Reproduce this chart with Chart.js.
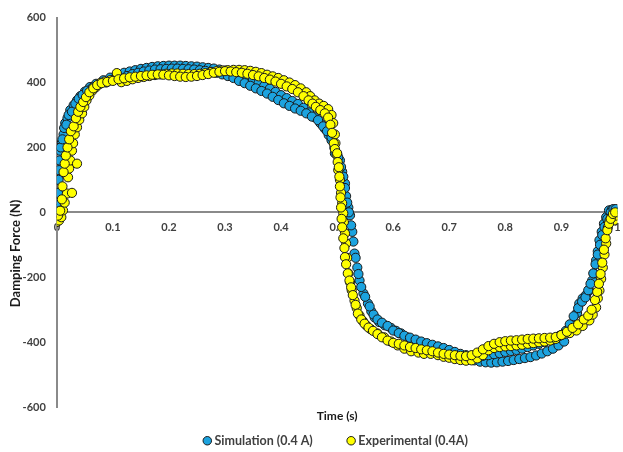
<!DOCTYPE html>
<html>
<head>
<meta charset="utf-8">
<script src="https://cdn.jsdelivr.net/npm/chart.js@4.4.0/dist/chart.umd.min.js"></script>
<style>
  html, body { margin: 0; padding: 0; background: #fff; }
  #wrap { width: 623px; height: 452px; }
</style>
</head>
<body>
<div id="wrap"><canvas id="myChart"></canvas></div>
<script>
// Simulation (0.4 A), two passes through the cycle
const simTimeA = [
    0, 0.002, 0.004, 0.006, 0.009, 0.012, 0.015, 0.019, 0.024, 0.03,
    0.036, 0.042, 0.05, 0.059, 0.07, 0.083, 0.095, 0.107, 0.12, 0.13,
    0.14, 0.15, 0.16, 0.17, 0.18, 0.19, 0.2, 0.21, 0.22, 0.23,
    0.24, 0.25, 0.26, 0.27, 0.28, 0.29, 0.3, 0.31, 0.32, 0.33,
    0.34, 0.35, 0.36, 0.37, 0.38, 0.39, 0.4, 0.41, 0.42, 0.43,
    0.44, 0.45, 0.46, 0.47, 0.478, 0.485, 0.49, 0.495, 0.5, 0.505,
    0.509, 0.514, 0.516, 0.52, 0.523, 0.527, 0.531, 0.536, 0.54, 0.547,
    0.555, 0.561, 0.567, 0.575, 0.585, 0.596, 0.605, 0.614, 0.625, 0.635,
    0.645, 0.655, 0.665, 0.675, 0.685, 0.695, 0.705, 0.715, 0.725, 0.735,
    0.745, 0.755, 0.765, 0.775, 0.785, 0.795, 0.805, 0.815, 0.825, 0.835,
    0.845, 0.855, 0.865, 0.875, 0.885, 0.895, 0.905, 0.915, 0.922, 0.928,
    0.932, 0.938, 0.944, 0.95, 0.955, 0.958, 0.962, 0.965, 0.968, 0.972,
    0.976, 0.98, 0.985, 0.99, 0.994, 0.998
];
const simForceA = [
    10, 60, 130, 190, 215, 240, 275, 290, 315, 330,
    345, 358, 372, 386, 396, 407, 415, 423, 430, 434,
    438, 442, 445, 448, 450, 451, 452, 452, 452, 451,
    450, 449, 447, 445, 443, 440, 437, 433, 428, 422,
    415, 407, 399, 390, 381, 371, 361, 352, 343, 334,
    322, 308, 293, 275, 258, 238, 222, 200, 180, 160,
    125, 89, 50, 15, -9, -60, -127, -170, -210, -250,
    -281, -305, -324, -338, -348, -356, -365, -373, -385, -395,
    -403, -410, -415, -422, -428, -433, -438, -442, -447, -452,
    -456, -460, -462, -463, -462, -460, -458, -455, -452, -449,
    -446, -441, -435, -428, -420, -410, -398, -370, -340, -310,
    -281, -265, -255, -241, -210, -188, -148, -120, -86, -60,
    -35, -15, 6, 8, 6, 0
];
const simTimeB = [
    0.001, 0.003, 0.005, 0.007, 0.01, 0.013, 0.017, 0.021, 0.027, 0.033,
    0.039, 0.046, 0.054, 0.064, 0.076, 0.088, 0.1, 0.113, 0.125, 0.135,
    0.145, 0.155, 0.165, 0.175, 0.185, 0.195, 0.205, 0.215, 0.225, 0.235,
    0.245, 0.255, 0.265, 0.275, 0.285, 0.295, 0.305, 0.315, 0.325, 0.335,
    0.345, 0.355, 0.365, 0.375, 0.385, 0.395, 0.405, 0.415, 0.425, 0.435,
    0.445, 0.455, 0.466, 0.475, 0.482, 0.49, 0.496, 0.502, 0.507, 0.511,
    0.514, 0.518, 0.521, 0.525, 0.529, 0.533, 0.538, 0.543, 0.55, 0.558,
    0.565, 0.572, 0.58, 0.59, 0.6, 0.61, 0.62, 0.63, 0.64, 0.65,
    0.66, 0.67, 0.68, 0.69, 0.7, 0.71, 0.72, 0.73, 0.74, 0.75,
    0.76, 0.77, 0.78, 0.79, 0.8, 0.81, 0.82, 0.83, 0.84, 0.85,
    0.86, 0.87, 0.88, 0.89, 0.9, 0.908, 0.915, 0.922, 0.93, 0.937,
    0.943, 0.948, 0.952, 0.957, 0.961, 0.965, 0.969, 0.973, 0.977, 0.982,
    0.988, 0.993, 0.997
];
const simForceB = [
    30, 100, 160, 200, 225, 260, 270, 300, 310, 335,
    350, 362, 375, 385, 395, 400, 408, 413, 420, 426,
    430, 434, 437, 440, 441, 442, 443, 443, 442, 441,
    440, 438, 436, 433, 430, 425, 420, 414, 405, 398,
    390, 382, 374, 366, 356, 346, 336, 328, 320, 313,
    305, 295, 284, 265, 250, 231, 182, 170, 140, 110,
    75, 30, 0, -40, -90, -140, -190, -230, -260, -290,
    -315, -330, -340, -350, -364, -372, -380, -386, -392, -398,
    -403, -408, -413, -418, -424, -430, -436, -440, -442, -443,
    -442, -440, -437, -434, -430, -427, -424, -420, -415, -410,
    -405, -400, -394, -387, -378, -365, -345, -320, -295, -275,
    -262, -240, -220, -188, -160, -130, -100, -70, -45, -20,
    0, 10, 10
];

// Experimental (0.4A), two passes through the cycle
const expTimeA = [
    0, 0.004, 0.008, 0.011, 0.014, 0.018, 0.02, 0.022, 0.024, 0.027,
    0.029, 0.032, 0.036, 0.04, 0.045, 0.049, 0.053, 0.058, 0.064, 0.07,
    0.077, 0.085, 0.095, 0.107, 0.115, 0.125, 0.135, 0.145, 0.155, 0.165,
    0.175, 0.185, 0.195, 0.205, 0.215, 0.225, 0.235, 0.245, 0.255, 0.265,
    0.275, 0.285, 0.295, 0.305, 0.315, 0.325, 0.335, 0.345, 0.355, 0.365,
    0.375, 0.385, 0.395, 0.405, 0.415, 0.425, 0.435, 0.445, 0.452, 0.46,
    0.468, 0.476, 0.484, 0.49, 0.493, 0.496, 0.497, 0.499, 0.502, 0.505,
    0.507, 0.509, 0.511, 0.512, 0.514, 0.516, 0.518, 0.52, 0.523, 0.526,
    0.531, 0.535, 0.54, 0.546, 0.552, 0.56, 0.572, 0.584, 0.596, 0.608,
    0.62, 0.632, 0.645, 0.655, 0.667, 0.68, 0.69, 0.7, 0.71, 0.72,
    0.73, 0.74, 0.75, 0.76, 0.77, 0.78, 0.79, 0.8, 0.81, 0.82,
    0.83, 0.84, 0.85, 0.86, 0.87, 0.88, 0.89, 0.897, 0.905, 0.915,
    0.927, 0.938, 0.95, 0.956, 0.962, 0.965, 0.968, 0.971, 0.974, 0.977,
    0.98, 0.983, 0.986, 0.989, 0.994, 0.998
];
const expForceA = [
    -30, -25, -15, 6, 30, 58, 108, 135, 160, 190,
    213, 240, 262, 285, 305, 325, 345, 360, 376, 386,
    398, 403, 407, 429, 401, 405, 410, 414, 417, 420,
    423, 425, 427, 428, 428, 427, 426, 426, 427, 429,
    432, 435, 437, 438, 439, 439, 438, 436, 433, 429,
    424, 419, 414, 407, 400, 392, 382, 370, 358, 345,
    335, 328, 318, 300, 275, 240, 213, 180, 130, 100,
    60, 28, -3, -30, -65, -96, -140, -188, -215, -240,
    -272, -295, -318, -335, -348, -360, -373, -385, -398, -410,
    -420, -428, -432, -436, -436, -440, -445, -448, -452, -455,
    -457, -456, -450, -440, -425, -418, -415, -413, -412, -410,
    -408, -405, -403, -400, -398, -395, -390, -380, -375, -372,
    -364, -350, -333, -315, -293, -265, -241, -205, -170, -130,
    -96, -46, -25, -15, -25, -10
];
const expTimeB = [
    0.002, 0.006, 0.009, 0.01, 0.012, 0.014, 0.016, 0.019, 0.022, 0.025,
    0.027, 0.03, 0.034, 0.036, 0.038, 0.042, 0.047, 0.052, 0.058, 0.065,
    0.072, 0.08, 0.09, 0.1, 0.11, 0.12, 0.13, 0.14, 0.15, 0.16,
    0.17, 0.18, 0.19, 0.2, 0.21, 0.22, 0.23, 0.24, 0.25, 0.26,
    0.27, 0.28, 0.29, 0.3, 0.31, 0.32, 0.33, 0.34, 0.35, 0.36,
    0.37, 0.38, 0.39, 0.4, 0.41, 0.42, 0.43, 0.44, 0.449, 0.456,
    0.462, 0.47, 0.478, 0.484, 0.488, 0.491, 0.494, 0.496, 0.5, 0.501,
    0.503, 0.504, 0.505, 0.506, 0.507, 0.508, 0.509, 0.511, 0.513, 0.514,
    0.516, 0.519, 0.522, 0.525, 0.528, 0.533, 0.537, 0.543, 0.549, 0.556,
    0.564, 0.572, 0.58, 0.59, 0.6, 0.61, 0.62, 0.63, 0.64, 0.65,
    0.66, 0.67, 0.68, 0.69, 0.7, 0.71, 0.72, 0.73, 0.74, 0.75,
    0.76, 0.77, 0.78, 0.79, 0.8, 0.81, 0.82, 0.83, 0.84, 0.85,
    0.86, 0.87, 0.88, 0.89, 0.9, 0.91, 0.92, 0.93, 0.94, 0.948,
    0.954, 0.96, 0.964, 0.967, 0.97, 0.973, 0.976, 0.979, 0.982, 0.985,
    0.988, 0.992, 0.996
];
const expForceB = [
    -10, 5, 40, 80, 124, 150, 175, 200, 225, 250,
    60, 265, 290, 150, 310, 325, 340, 355, 370, 382,
    392, 398, 402, 405, 410, 413, 416, 418, 420, 422,
    424, 425, 424, 422, 420, 418, 417, 418, 420, 423,
    426, 430, 433, 435, 434, 432, 430, 427, 423, 419,
    414, 409, 403, 396, 388, 380, 370, 358, 345, 335,
    325, 315, 305, 292, 270, 245, 213, 195, 182, 155,
    139, 110, 80, 46, 15, -20, -46, -80, -110, -138,
    -160, -188, -210, -231, -255, -285, -312, -330, -343, -355,
    -365, -375, -385, -395, -402, -405, -410, -415, -418, -422,
    -425, -428, -432, -436, -438, -440, -442, -443, -440, -432,
    -422, -412, -405, -400, -397, -395, -394, -392, -390, -389,
    -388, -387, -386, -384, -378, -368, -356, -345, -330, -318,
    -300, -270, -245, -220, -190, -155, -115, -80, -55, -35,
    -20, -5, 0
];

function toPoints(times, forces) {
    return times.map((t, i) => ({ x: t, y: forces[i] }));
}

const simPoints = toPoints(simTimeA, simForceA).concat(toPoints(simTimeB, simForceB));
const expPoints = toPoints(expTimeA, expForceA).concat(toPoints(expTimeB, expForceB));

const textColor = '#404040';
const axisColor = '#8a8a8a';
const fontFamily = "Lato, 'Liberation Sans', sans-serif";
const nbsp = '\u00a0';

const data = {
    datasets: [{
        label: 'Simulation (0.4 A)',
        data: simPoints,
        backgroundColor: '#1ca3df',
        borderColor: '#1a1a1a',
        borderWidth: 1,
        pointRadius: 4.6,
        order: 2
    }, {
        label: 'Experimental (0.4A)',
        data: expPoints,
        backgroundColor: '#ffff00',
        borderColor: '#1a1a1a',
        borderWidth: 1,
        pointRadius: 4.6,
        order: 1
    }]
};

const config = {
    type: 'scatter',
    data: data,
    options: {
        responsive: true,
        maintainAspectRatio: false,
        animation: false,
        events: [],
        layout: { padding: { left: 8, right: 2, top: 12, bottom: -5 } },
        scales: {
            x: {
                type: 'linear',
                position: { y: 0 },
                min: 0,
                max: 1,
                grid: { display: false, drawTicks: false },
                border: { display: true, color: axisColor, width: 2 },
                ticks: {
                    stepSize: 0.1,
                    padding: 9,
                    color: textColor,
                    font: { family: fontFamily, size: 11, weight: 'bold' },
                    callback: (v) => String(Number(v.toFixed(1)))
                },
                // let the last label run to the edge like the original
                afterFit: (scale) => {
                    scale.paddingRight = 0;
                }
            },
            y: {
                min: -600,
                max: 600,
                grid: { display: false, drawTicks: false },
                border: { display: true, color: axisColor, width: 2 },
                ticks: {
                    stepSize: 200,
                    padding: 11,
                    color: textColor,
                    font: { family: fontFamily, size: 11, weight: 'bold' }
                },
                title: {
                    display: true,
                    // trailing spaces push the label down the axis, as in the original
                    text: 'Damping Force (N)' + nbsp.repeat(26),
                    color: '#1a1a1a',
                    padding: { top: 0, bottom: -12 },
                    font: { family: fontFamily, size: 13, weight: 'bold' }
                }
            }
        },
        plugins: {
            tooltip: { enabled: false },
            title: {
                display: true,
                position: 'bottom',
                fullSize: false,
                weight: 500,
                text: 'Time (s)',
                color: '#1a1a1a',
                padding: { top: 2, bottom: 1 },
                font: { family: fontFamily, size: 12, weight: 'bold' }
            },
            legend: {
                position: 'bottom',
                fullSize: false,
                labels: {
                    usePointStyle: true,
                    boxWidth: 2,
                    boxHeight: 6,
                    padding: 10,
                    color: textColor,
                    font: { family: fontFamily, size: 12.5, weight: 'bold' },
                    sort: (a, b) => a.datasetIndex - b.datasetIndex,
                    generateLabels: (chart) => {
                        const items = Chart.defaults.plugins.legend.labels.generateLabels(chart);
                        items.forEach((item) => {
                            if (item.datasetIndex === 0) item.text = item.text + nbsp.repeat(9);
                        });
                        return items;
                    }
                }
            }
        }
    }
};

const myChart = new Chart(document.getElementById('myChart'), config);
</script>
</body>
</html>
